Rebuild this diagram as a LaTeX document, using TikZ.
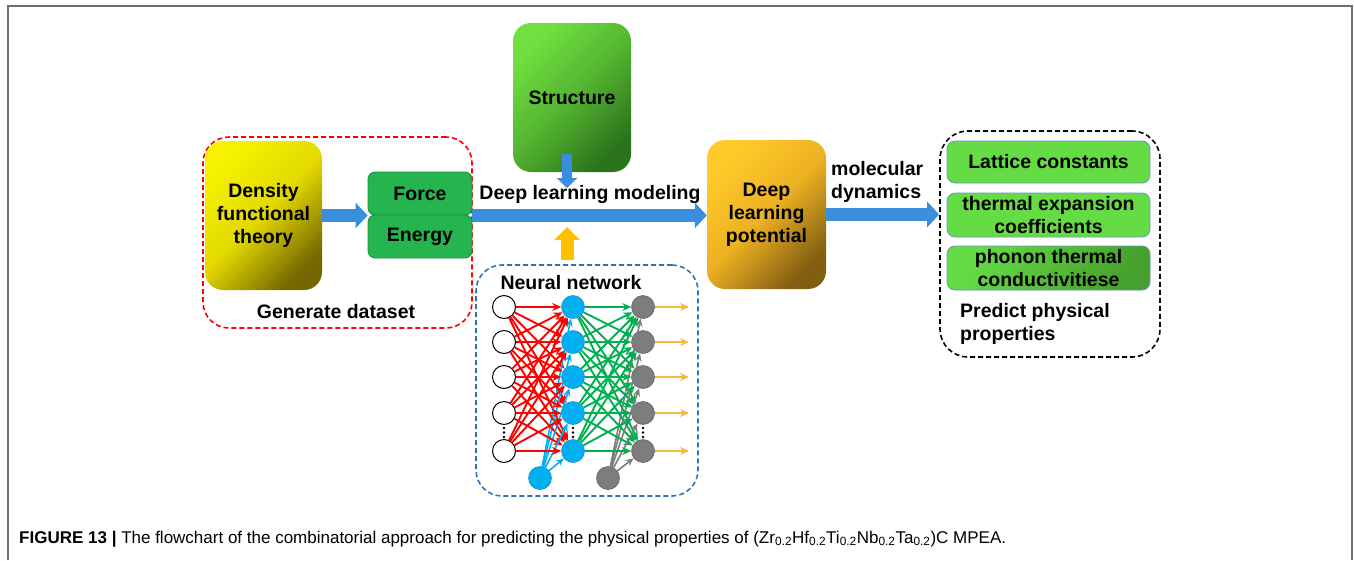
\documentclass[tikz,border=0pt]{standalone}
\usepackage{fontspec}
\setmainfont{Liberation Sans}
\newfontfamily\capfont{Liberation Sans}
\usetikzlibrary{arrows.meta}

\definecolor{arrblue}{RGB}{58,142,222}
\definecolor{fegreen}{RGB}{38,180,78}
\definecolor{fegreenD}{RGB}{30,140,70}
\definecolor{propgreen}{RGB}{102,220,68}
\definecolor{propedge}{RGB}{105,150,200}
\definecolor{nnblue}{RGB}{0,176,240}
\definecolor{nnblueD}{RGB}{30,140,210}
\definecolor{nngray}{RGB}{125,125,125}
\definecolor{nngrayD}{RGB}{100,100,100}
\definecolor{nnred}{RGB}{255,0,0}
\definecolor{nngreen}{RGB}{0,176,80}
\definecolor{nnorange}{RGB}{244,185,66}
\definecolor{dashblue}{RGB}{46,117,182}
\definecolor{framegray}{RGB}{110,110,110}
\definecolor{ygold}{RGB}{255,192,0}
\definecolor{dftA}{RGB}{246,242,0}
\definecolor{dftB}{RGB}{226,216,0}
\definecolor{dftC}{RGB}{118,103,0}
\definecolor{strA}{RGB}{112,224,64}
\definecolor{strB}{RGB}{84,180,48}
\definecolor{strC}{RGB}{44,116,28}
\definecolor{dlpA}{RGB}{255,202,42}
\definecolor{dlpB}{RGB}{236,176,34}
\definecolor{dlpC}{RGB}{130,94,18}
\definecolor{propD}{RGB}{70,160,45}

\begin{document}
\begin{tikzpicture}[x=1pt,y=-1pt,
  txt/.style={font=\fontsize{19.5}{23}\selectfont\bfseries, inner sep=0pt, align=center},
  gradbox/.style={txt, rounded corners=18pt},
  febox/.style={txt, rounded corners=7pt, fill=fegreen, draw=fegreenD, line width=0.8pt,
    minimum width=104pt, minimum height=43pt},
  propbox/.style={txt, rounded corners=8pt, fill=propgreen, draw=propedge, line width=0.8pt,
    minimum width=203pt, font=\fontsize{19.5}{22.5}\selectfont\bfseries},
  groupbox/.style={rounded corners=26pt, dashed, dash pattern=on 5pt off 3pt, line width=1.6pt, inner sep=0pt},
  bigarrow/.style={draw=arrblue, line width=13pt, -{Triangle[length=12pt,width=25pt]}},
  inneur/.style={circle, minimum size=23pt, inner sep=0pt, draw=black, fill=white, line width=1pt},
  hidneur/.style={circle, minimum size=23pt, inner sep=0pt, draw=nnblueD, fill=nnblue, line width=0.6pt},
  outneur/.style={circle, minimum size=23pt, inner sep=0pt, draw=nngrayD, fill=nngray, line width=0.6pt},
  wred/.style={draw=nnred, line width=1.9pt, -{Stealth[length=9pt,width=8pt]}},
  wgreen/.style={draw=nngreen, line width=1.9pt, -{Stealth[length=9pt,width=8pt]}},
  wblue/.style={draw=nnblue, line width=1.6pt, -{Stealth[length=8pt,width=7pt]}},
  wgray/.style={draw=nngray, line width=1.6pt, -{Stealth[length=8pt,width=7pt]}},
  wout/.style={draw=nnorange, line width=1.8pt, -{Stealth[length=9pt,width=8pt]}}
]
\useasboundingbox (0,0) rectangle (1354,560);

% page frame, open at the bottom
\draw[framegray, line width=1.8pt] (8,560) -- (8,6) -- (1352,6) -- (1352,560);

% ---- group outlines ----
\node[groupbox, draw=red, minimum width=269pt, minimum height=191pt] (gen) at (337.5,232.5) {};
\node[groupbox, draw=dashblue, minimum width=222pt, minimum height=231pt] (nn) at (587,380.5) {};
\node[groupbox, draw=black, rounded corners=28pt, minimum width=220pt, minimum height=226pt] (pred) at (1050,244) {};

% ---- main blocks (diagonal shading, light at top left) ----
\node[gradbox, top color=dftA, bottom color=dftC, middle color=dftB, shading angle=45,
  minimum width=117pt, minimum height=149pt] (dft) at (263.5,215.5) {Density\\functional\\theory};
\node[febox] (force) at (420,193.5) {Force};
\node[febox] (energy) at (420,236.5) {Energy};
\node[gradbox, top color=strA, bottom color=strC, middle color=strB, shading angle=45,
  minimum width=118pt, minimum height=149pt] (struct) at (572,97.5) {Structure};
\node[gradbox, top color=dlpA, bottom color=dlpC, middle color=dlpB, shading angle=45,
  minimum width=119pt, minimum height=149pt] (dlp) at (766.5,214.5) {Deep\\learning\\potential};

\node[propbox, minimum height=42pt] (lat) at (1048.5,162) {Lattice constants};
\node[propbox, minimum height=44pt] (tec) at (1048.5,215) {thermal expansion\\coefficients};
\node[propbox, minimum height=44pt, top color=propgreen, middle color=propgreen, bottom color=propD,
  shading angle=60] (ptc) at (1048.5,268) {phonon thermal\\conductivitiese};

% ---- labels ----
\node[txt] (gentitle) at (336,312) {Generate dataset};
\node[txt] (dlm) at (590,194) {Deep learning modeling};
\node[txt, anchor=west, align=left] (md) at (831,181.5) {molecular\\dynamics};
\node[txt, anchor=west, align=left] (predtitle) at (960,323.5) {Predict physical\\properties};
\node[txt] (nntitle) at (571,283) {Neural network};

% ---- block arrows ----
\draw[bigarrow] (dft.east) -- (dft.east -| force.west);
\draw[bigarrow] (force.south east) -- (force.south east -| dlp.west);
\draw[bigarrow] (dlp.east) -- (dlp.east -| pred.west);

\coordinate (sdown) at (567,188);
\draw[draw=arrblue, line width=10pt, -{Triangle[length=10pt,width=20pt]}]
  (sdown |- struct.south) ++(0,-18) -- (sdown);

\coordinate (nup) at (567,227);
\draw[draw=ygold, line width=13pt, -{Triangle[length=13pt,width=25pt]}]
  ([yshift=4pt]nup |- nn.north) -- (nup);

% ---- neural network ----
\foreach \r/\y in {1/307,2/342,3/377,4/413,5/451}{
  \node[inneur] (i\r) at (504,\y) {};
  \node[hidneur] (h\r) at (573,\y) {};
  \node[outneur] (o\r) at (643,\y) {};
  \coordinate (t\r) at (689,\y);
}
\node[hidneur] (bh) at (540,478) {};
\node[outneur] (bo) at (608,478) {};

\foreach \a in {1,...,5}{
  \foreach \b in {1,...,5}{
    \draw[wred] (i\a) -- (h\b);
    \draw[wgreen] (h\a) -- (o\b);
  }
  \draw[wblue] (bh) -- (h\a);
  \draw[wgray] (bo) -- (o\a);
  \draw[wout] (o\a) -- (t\a);
}

% vertical ellipsis in each layer
\foreach \x in {504,573,643}{
  \foreach \yy in {428,432.5,437}{
    \fill[black] (\x,\yy) circle (1.3pt);
  }
}

% ---- caption ----
\node[anchor=base west, inner sep=0pt, font=\capfont\fontsize{17}{20}\selectfont] (cap) at (19,543)
  {\textbf{FIGURE 13 |} The flowchart of the combinatorial approach for predicting the physical properties of (Zr\textsubscript{0.2}Hf\textsubscript{0.2}Ti\textsubscript{0.2}Nb\textsubscript{0.2}Ta\textsubscript{0.2})C MPEA.};
\end{tikzpicture}
\end{document}
